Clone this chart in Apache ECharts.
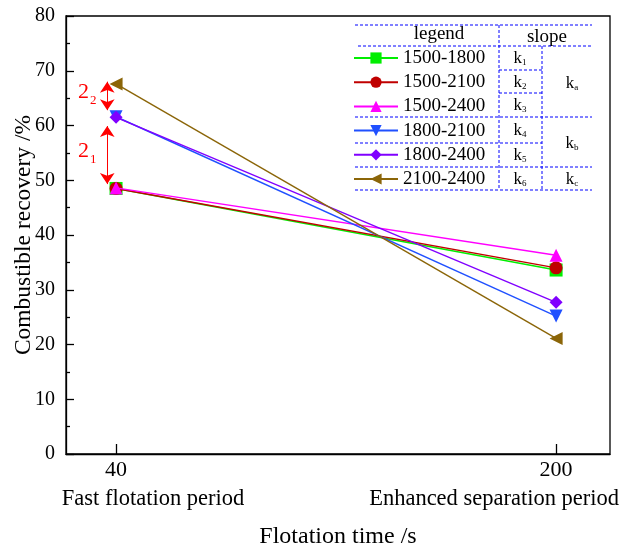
<!DOCTYPE html>
<html>
<head>
<meta charset="utf-8">
<script src="https://cdn.jsdelivr.net/npm/echarts@6/dist/echarts.min.js"></script>
<style>
html, body { margin: 0; padding: 0; background: #fff; }
#chart { width: 621px; height: 550px; }
</style>
</head>
<body>
<div id="chart"></div>
<script>
// Flotation time (s) and the name of each period
const times = [40, 200];
const periodNames = ['Fast flotation period', 'Enhanced separation period'];

// Combustible recovery (%) at 40 s and 200 s for each density pair
const seriesNames = ['1500-1800', '1500-2100', '1500-2400', '1800-2100', '1800-2400', '2100-2400'];
const rec1500_1800 = [48.5, 33.6];
const rec1500_2100 = [48.5, 34.0];
const rec1500_2400 = [48.6, 36.3];
const rec1800_2100 = [61.6, 25.2];
const rec1800_2400 = [61.5, 27.7];
const rec2100_2400 = [67.6, 21.1];
const recoveries = [rec1500_1800, rec1500_2100, rec1500_2400, rec1800_2100, rec1800_2400, rec2100_2400];

// Slope subscripts in the table and the grouped slopes
const slopeSubs = ['1', '2', '3', '4', '5', '6'];
const groupSubs = ['a', 'b', 'c'];

// Gap annotations at the fast flotation stage
const gapSubs = ['1', '2'];
const arrowX = 36.8;
const arrowSpans = [[49.3, 59.9], [62.8, 68.0]];

const FONT = '"Liberation Serif", "Times New Roman", serif';
const colors = ['#00ee00', '#c00000', '#ff00ff', '#2050ff', '#8000ff', '#8b6508'];
const symbols = ['rect', 'circle', 'triangle', 'triangle', 'diamond', 'triangle'];
const rotations = [0, 0, 0, 180, 0, 90];

const chart = echarts.init(document.getElementById('chart'));

const series = seriesNames.map((name, i) => ({
  name: name,
  type: 'line',
  data: times.map((t, j) => [t, recoveries[i][j]]),
  symbol: symbols[i],
  symbolRotate: rotations[i],
  symbolSize: 13,
  color: colors[i],
  lineStyle: { width: 1.4, color: colors[i] },
  itemStyle: { color: colors[i] },
  emphasis: { disabled: true },
  z: 2 + i
}));

// double-headed red arrows
series.push({
  name: 'gaps',
  type: 'line',
  data: [],
  silent: true,
  markLine: {
    silent: true,
    symbol: ['arrow', 'arrow'],
    symbolSize: 11,
    label: { show: false },
    lineStyle: { color: '#ff0000', width: 1, type: 'solid' },
    emphasis: { disabled: true },
    data: arrowSpans.map(s => [{ coord: [arrowX, s[0]] }, { coord: [arrowX, s[1]] }])
  }
});

// dashed table behind the legend
const tableColor = '#0000ff';
function dash(x1, y1, x2, y2) {
  return {
    type: 'line',
    silent: true,
    shape: { x1: x1, y1: y1, x2: x2, y2: y2 },
    style: { stroke: tableColor, lineWidth: 1, lineDash: [3, 2] },
    z: 1
  };
}
const tableLines = [
  dash(355, 25, 592, 25),
  dash(358, 46, 592, 46),
  dash(499, 70, 542, 70),
  dash(499, 93, 542, 93),
  dash(355, 117, 592, 117),
  dash(355, 143, 542, 143),
  dash(355, 167, 592, 167),
  dash(355, 190, 592, 190),
  dash(499, 25, 499, 190),
  dash(542, 46, 542, 190)
];
const rowCenters = [58, 82, 105, 130, 155, 179];
function kText(sub, x, y) {
  return {
    type: 'text',
    silent: true,
    x: x, y: y,
    style: {
      text: '{k|k}{s|' + sub + '}',
      align: 'center',
      verticalAlign: 'middle',
      rich: {
        k: { fontFamily: FONT, fontSize: 17, fill: '#000', verticalAlign: 'bottom', lineHeight: 18 },
        s: { fontFamily: FONT, fontSize: 9, fill: '#000', verticalAlign: 'bottom', lineHeight: 9 }
      }
    }
  };
}
const tableTexts = [
  { type: 'text', silent: true, x: 439, y: 34,
    style: { text: 'legend', font: '19px ' + FONT, fill: '#000', align: 'center', verticalAlign: 'middle' } },
  { type: 'text', silent: true, x: 547, y: 37,
    style: { text: 'slope', font: '19px ' + FONT, fill: '#000', align: 'center', verticalAlign: 'middle' } }
].concat(slopeSubs.map((s, i) => kText(s, 520, rowCenters[i])))
 .concat([kText(groupSubs[0], 572, 83), kText(groupSubs[1], 572, 143), kText(groupSubs[2], 572, 179)]);

chart.setOption({
  animation: false,
  backgroundColor: '#fff',
  textStyle: { fontFamily: FONT },
  grid: {
    left: 66, right: 11, top: 16, bottom: 96,
    outerBoundsMode: 'none', containLabel: false,
    show: true, borderColor: '#000', borderWidth: 1.3
  },
  legend: {
    left: 353, top: 46, orient: 'vertical', padding: 0,
    itemWidth: 44, itemHeight: 14, itemGap: 0.2,
    selectedMode: false,
    data: seriesNames,
    textStyle: { fontFamily: FONT, fontSize: 19, color: '#000', lineHeight: 24 }
  },
  xAxis: {
    type: 'value',
    min: 21.8, max: 219.6,
    name: 'Flotation time /s',
    nameLocation: 'middle',
    nameGap: 71,
    nameTextStyle: { fontFamily: FONT, fontSize: 24, color: '#000' },
    axisLine: { lineStyle: { color: '#000', width: 1.3 } },
    axisTick: { inside: true, length: 10, customValues: times, lineStyle: { color: '#000', width: 1.3 } },
    splitLine: { show: false },
    axisLabel: {
      customValues: times,
      margin: 2,
      formatter: function (v) {
        const i = times.indexOf(v);
        return '{n|' + v + '}\n{p' + i + '|' + periodNames[i] + '}';
      },
      rich: {
        n: { fontFamily: FONT, fontSize: 22, color: '#000', lineHeight: 28 },
        p0: { fontFamily: FONT, fontSize: 22.5, color: '#000', lineHeight: 31, padding: [0, 0, 0, 74] },
        p1: { fontFamily: FONT, fontSize: 22.5, color: '#000', lineHeight: 31, padding: [0, 124, 0, 0] }
      }
    }
  },
  yAxis: {
    type: 'value',
    min: 0, max: 80, interval: 10,
    name: 'Combustible recovery /%',
    nameLocation: 'middle',
    nameGap: 30,
    nameMoveOverlap: false,
    nameTextStyle: { fontFamily: FONT, fontSize: 23.5, color: '#000' },
    axisLine: { show: true, lineStyle: { color: '#000', width: 1.3 } },
    axisTick: { inside: true, length: 8, lineStyle: { color: '#000', width: 1.3 } },
    minorTick: { show: true, splitNumber: 2, length: 4, lineStyle: { color: '#000', width: 1.3 } },
    splitLine: { show: false },
    axisLabel: { fontFamily: FONT, fontSize: 20, color: '#000', margin: 11 }
  },
  series: series,
  graphic: tableLines.concat(tableTexts)
});

// gap labels beside the arrows, placed from the axis scales
const gapLabels = arrowSpans.map((s, i) => {
  const p = chart.convertToPixel({ gridIndex: 0 }, [arrowX, (s[0] + s[1]) / 2]);
  return {
    type: 'text',
    silent: true,
    x: p[0] - 20,
    y: p[1],
    style: {
      text: '{a|2}{b|' + gapSubs[i] + '}',
      align: 'center',
      verticalAlign: 'middle',
      rich: {
        a: { fontFamily: FONT, fontSize: 22, fill: '#ff0000', verticalAlign: 'bottom', lineHeight: 22, padding: [0, 1, 4, 0] },
        b: { fontFamily: FONT, fontSize: 13, fill: '#ff0000', verticalAlign: 'bottom', lineHeight: 13 }
      }
    }
  };
});
chart.setOption({ graphic: tableLines.concat(tableTexts).concat(gapLabels) });
</script>
</body>
</html>
